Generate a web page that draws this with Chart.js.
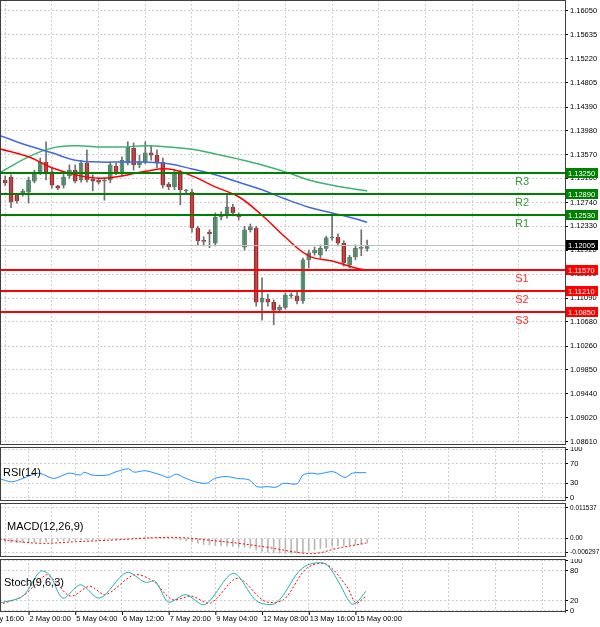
<!DOCTYPE html>
<html>
<head>
<meta charset="utf-8">
<script src="https://cdn.jsdelivr.net/npm/chart.js@4.4.1/dist/chart.umd.min.js"></script>
<style>
  body { margin: 0; background: #fff; }
  #wrap { position: relative; width: 600px; height: 627px; overflow: hidden; }
  .pane { position: absolute; left: 0; width: 600px; }
  .lbl { position: absolute; font: 11px "Liberation Sans", Arial, sans-serif; color: #000; }
</style>
</head>
<body>
<div id="wrap">
  <div class="pane" style="top:0;height:445px"><canvas id="main"></canvas></div>
  <div class="pane" style="top:447px;height:54px"><canvas id="rsi"></canvas></div>
  <div class="pane" style="top:503px;height:54px"><canvas id="macd"></canvas></div>
  <div class="pane" style="top:559px;height:68px"><canvas id="stoch"></canvas></div>
  <div class="lbl" style="left:3px;top:466px">RSI(14)</div>
  <div class="lbl" style="left:7px;top:520px">MACD(12,26,9)</div>
  <div class="lbl" style="left:4px;top:576px">Stoch(9,6,3)</div>
</div>
<script>
// 4H candles, 1 May 20:00 .. 15 May 00:00
var open  = [1.1313,1.1318,1.1287,1.1289,1.1292,1.1311,1.1325,1.1344,1.1327,1.1303,1.1304,1.1320,1.1330,1.1313,1.1342,1.1315,1.1313,1.1311,1.1313,1.1337,1.1325,1.1342,1.1368,1.1339,1.1344,1.1360,1.1356,1.1344,1.1306,1.1301,1.1325,1.1294,1.1292,1.1230,1.1208,1.1223,1.1204,1.1249,1.1252,1.1266,1.1252,1.1197,1.1227,1.1230,1.1102,1.1107,1.1102,1.1088,1.1093,1.1113,1.1113,1.1104,1.1175,1.1187,1.1183,1.1195,1.1213,1.1214,1.1204,1.1166,1.1180,1.1195,1.1195];
var high  = [1.1320,1.1322,1.1290,1.1297,1.1318,1.1330,1.1351,1.1379,1.1334,1.1304,1.1327,1.1339,1.1339,1.1347,1.1365,1.1322,1.1316,1.1316,1.1344,1.1342,1.1353,1.1379,1.1377,1.1356,1.1379,1.1373,1.1365,1.1351,1.1309,1.1330,1.1330,1.1297,1.1297,1.1233,1.1215,1.1227,1.1256,1.1258,1.1287,1.1271,1.1256,1.1233,1.1237,1.1233,1.1144,1.1116,1.1106,1.1097,1.1118,1.1118,1.1120,1.1178,1.1192,1.1197,1.1201,1.1216,1.1252,1.1220,1.1208,1.1183,1.1201,1.1227,1.1209];
var low   = [1.1303,1.1265,1.1273,1.1285,1.1273,1.1308,1.1322,1.1313,1.1299,1.1296,1.1299,1.1316,1.1308,1.1309,1.1309,1.1294,1.1306,1.1278,1.1308,1.1322,1.1320,1.1339,1.1330,1.1334,1.1341,1.1347,1.1334,1.1299,1.1296,1.1296,1.1270,1.1290,1.1223,1.1201,1.1199,1.1196,1.1199,1.1244,1.1247,1.1251,1.1244,1.1192,1.1223,1.1095,1.1071,1.1095,1.1063,1.1085,1.1090,1.1109,1.1099,1.1100,1.1161,1.1183,1.1178,1.1190,1.1209,1.1199,1.1164,1.1161,1.1175,1.1182,1.1190];
var close = [1.1308,1.1275,1.1277,1.1294,1.1313,1.1325,1.1344,1.1327,1.1304,1.1299,1.1318,1.1330,1.1311,1.1342,1.1313,1.1311,1.1309,1.1313,1.1339,1.1325,1.1347,1.1370,1.1339,1.1344,1.1360,1.1356,1.1342,1.1304,1.1301,1.1325,1.1296,1.1294,1.1230,1.1208,1.1207,1.1220,1.1249,1.1252,1.1266,1.1256,1.1249,1.1227,1.1232,1.1102,1.1109,1.1102,1.1088,1.1093,1.1114,1.1113,1.1104,1.1175,1.1187,1.1192,1.1195,1.1213,1.1214,1.1204,1.1170,1.1180,1.1195,1.1196,1.1200];

// moving averages read every 4 candles
var maIdx   = [-1,4,8,12,16,20,24,28,32,36,40,44,48,52,56,60,62];
var maFast  = [1.1367,1.1353,1.1334,1.1322,1.1316,1.1320,1.1328,1.1332,1.1320,1.1301,1.1284,1.1252,1.1214,1.1182,1.1173,1.1161,1.1157];
var maMid   = [1.1390,1.1372,1.1360,1.1347,1.1344,1.1344,1.1344,1.1341,1.1332,1.1322,1.1309,1.1296,1.1280,1.1266,1.1256,1.1246,1.1240];
var maSlow  = [1.1325,1.1353,1.1368,1.1372,1.1370,1.1370,1.1372,1.1370,1.1366,1.1358,1.1349,1.1339,1.1327,1.1313,1.1304,1.1297,1.1294];

var levelNames  = ['R3','R2','R1','S1','S2','S3'];
var levelValues = [1.1325,1.1289,1.1253,1.1157,1.1121,1.1085];
var lastPrice = 1.12005;
var priceTicks = [1.16050,1.15635,1.15220,1.14805,1.14390,1.13980,1.13570,1.13160,1.12740,1.12330,1.11920,1.11500,1.11090,1.10680,1.10260,1.09850,1.09440,1.09020,1.08610];

var rsiIdx = [-1,1.1,3,5.7,8.3,10.9,12.9,13.5,14.9,17.5,18.8,21.1,22.1,24,26.7,28,29.3,30.6,32.6,34.5,35.9,37.8,39.8,41.8,43.1,45,46.4,47.7,50,51,52.6,53.6,56.2,58.2,59.5,61.8];
var rsiVal = [40,33,40,51,40,51,47,53,47,47,53,60,53,56,47,42,49,42,33,30,40,44,40,37,23,23,22,30,29,47,51,49,54,42,51,52];

var macdMain = [-0.0012,-0.0013,-0.0014,-0.0014,-0.0013,-0.0012,-0.0011,-0.0010,-0.0010,-0.0009,-0.0008,-0.0008,-0.0007,
  -0.0006,-0.0005,-0.0005,-0.0004,-0.0003,-0.0002,-0.0001,0.0000,0.0001,0.0002,0.0002,0.0003,0.0003,
  0.0002,0.0001,-0.0001,-0.0003,-0.0005,-0.0008,-0.0012,-0.0016,-0.0020,-0.0022,
  -0.0024,-0.0025,-0.0026,-0.0027,-0.0028,-0.0030,-0.0032,-0.0038,-0.0043,-0.0046,
  -0.0048,-0.0049,-0.0050,-0.0050,-0.0049,-0.0046,-0.0042,
  -0.0038,-0.0034,-0.0030,-0.0026,-0.0024,-0.0024,-0.0022,-0.0020,-0.0018,-0.0016];
var sigIdx = [-1,5.7,12.2,18.8,26.7,30.6,34.5,39.8,45,51,53.6,56.9,61.8];
var sigVal = [-0.0003,-0.0016,-0.0011,-0.0005,0.0003,0.0002,-0.0005,-0.0016,-0.0030,-0.0049,-0.0049,-0.0033,-0.0016];

var stIdx  = [-1,3,6,7.6,9.9,12.9,16.2,20.8,24,25.7,28,30.9,34.2,39.1,43.1,46.4,50.3,52.3,54.9,56.9,59.2,60.1,61.8];
var stMain = [15,29,79,72,25,52,25,77,57,59,17,32,12,75,19,15,79,94,94,62,14,15,39];
var sgIdx  = [-1,3,7,8.3,11.2,14.5,17.2,22.1,25.4,28.6,31.9,35.2,39.8,44.4,47.7,51.6,54.9,58.5,60.1,61.8];
var stSig  = [12,29,72,62,29,49,32,72,59,22,29,15,65,19,22,85,94,49,15,29];

var timeIdx = [-4,4,12,20,28,36,44,52,60];
var timeLabels = ['1 May 16:00','2 May 00:00','5 May 04:00','6 May 12:00','7 May 20:00','9 May 04:00','12 May 08:00','13 May 16:00','15 May 00:00'];

var FONT = { family: 'Liberation Sans', size: 7.5 };
var XMIN = -0.89, XMAX = 95.9;

function pts(xs, ys) { return xs.map(function(x, i) { return { x: x, y: ys[i] }; }); }

function xAxis() {
  return {
    type: 'linear', min: XMIN, max: XMAX, offset: false,
    ticks: { display: false },
    grid: { color: '#d0d0d0', drawTicks: false },
    border: { display: false, dash: [2, 2] },
    afterBuildTicks: function(s) {
      var t = [];
      for (var v = 4; v < XMAX; v += 8) t.push({ value: v });
      s.ticks = t;
    },
    afterFit: function(s) { s.height = 0; s.paddingLeft = 0; s.paddingRight = 0; }
  };
}
function yAxis(min, max, ticks, fmt, size) {
  return {
    position: 'right', min: min, max: max,
    ticks: { font: { family: 'Liberation Sans', size: size || 7.5 }, color: '#000', padding: 2, autoSkip: false, callback: fmt },
    grid: { color: '#d0d0d0', drawTicks: true, tickLength: 3, tickColor: '#000' },
    border: { display: true, color: '#808080', dash: [2, 2] },
    afterBuildTicks: function(s) { s.ticks = ticks.map(function(v) { return { value: v }; }); },
    afterFit: function(s) { s.width = 35; s.paddingTop = 0; s.paddingBottom = 0; }
  };
}
var frame = {
  id: 'frame',
  afterDraw: function(chart) {
    var a = chart.chartArea, c = chart.ctx;
    c.save();
    c.strokeStyle = '#404040'; c.lineWidth = 1;
    c.strokeRect(a.left + 0.5, a.top + 0.5, a.right - a.left, a.bottom - a.top - 1);
    c.restore();
  }
};
function baseOpts(xs, ys, pad) {
  return {
    responsive: true, maintainAspectRatio: false, animation: false,
    layout: { padding: pad || 0, autoPadding: false },
    plugins: { legend: { display: false }, tooltip: { enabled: false } },
    scales: { x: xs, y: ys }
  };
}

// main price pane
var idx = close.map(function(_, i) { return i; });
var candleCol = close.map(function(c, i) { return c >= open[i] ? '#3cb371' : '#ff0000'; });

var levels = {
  id: 'levels',
  afterDatasetsDraw: function(chart) {
    var c = chart.ctx, y = chart.scales.y, a = chart.chartArea;
    c.save();
    c.font = '11px Liberation Sans';
    var py = Math.round(y.getPixelForValue(lastPrice)) + 0.5;
    c.strokeStyle = '#c0c0c0'; c.lineWidth = 1;
    c.beginPath(); c.moveTo(a.left, py); c.lineTo(a.right, py); c.stroke();
    levelValues.forEach(function(v, i) {
      var col = i < 3 ? '#008000' : '#ff0000';
      var p = Math.round(y.getPixelForValue(v));
      c.strokeStyle = col; c.lineWidth = 2;
      c.beginPath(); c.moveTo(a.left, p); c.lineTo(a.right, p); c.stroke();
      c.fillStyle = i < 3 ? '#3a9a3a' : '#ff3030';
      c.textAlign = 'center';
      c.fillText(levelNames[i], 522, p + 12);
    });
    c.restore();
  },
  afterDraw: function(chart) {
    var c = chart.ctx, y = chart.scales.y, a = chart.chartArea;
    c.save();
    c.font = '7.5px Liberation Sans'; c.textAlign = 'left'; c.textBaseline = 'middle';
    function tag(v, bg) {
      var p = Math.round(y.getPixelForValue(v));
      c.fillStyle = bg; c.fillRect(a.right + 1, p - 5, 32, 10);
      c.fillStyle = '#fff'; c.fillText(v.toFixed(5), a.right + 3, p + 0.5);
    }
    levelValues.forEach(function(v, i) { tag(v, i < 3 ? '#008000' : '#ff0000'); });
    tag(lastPrice, '#000');
    c.restore();
  }
};

new Chart(document.getElementById('main'), {
  type: 'bar',
  data: {
    datasets: [
      { type: 'line', data: pts(maIdx, maFast), borderColor: '#ff0000', borderWidth: 1.5, pointRadius: 0, tension: 0.4 },
      { type: 'line', data: pts(maIdx, maMid), borderColor: '#4169e1', borderWidth: 1.5, pointRadius: 0, tension: 0.4 },
      { type: 'line', data: pts(maIdx, maSlow), borderColor: '#3cb371', borderWidth: 1.5, pointRadius: 0, tension: 0.4 },
      { data: idx.map(function(i) { return { x: i, y: [low[i], high[i]] }; }),
        backgroundColor: '#707070', barThickness: 1, grouped: false, minBarLength: 1 },
      { data: idx.map(function(i) { return { x: i, y: [open[i], close[i]] }; }),
        backgroundColor: candleCol, borderColor: '#505050', borderWidth: 0.5, borderSkipped: false,
        barThickness: 4, grouped: false, minBarLength: 1 }
    ]
  },
  options: baseOpts(xAxis(), yAxis(1.08553, 1.16238, priceTicks, function(v) { return v.toFixed(5); })),
  plugins: [levels, frame]
});

// RSI
new Chart(document.getElementById('rsi'), {
  type: 'line',
  data: { datasets: [{ data: pts(rsiIdx, rsiVal), borderColor: '#1e90ff', borderWidth: 1, pointRadius: 0, tension: 0.3 }] },
  options: baseOpts(xAxis(), yAxis(-6.6, 105, [0, 30, 70, 100], function(v) { return String(v); })),
  plugins: [frame]
});

// MACD
var macdTicks = [0.0102, 0, -0.0046];
var macdText = ['0.011537', '0.00', '-0.006297'];
new Chart(document.getElementById('macd'), {
  type: 'bar',
  data: {
    datasets: [
      { type: 'line', data: pts(sigIdx, sigVal), borderColor: '#ff0000', borderWidth: 1, borderDash: [2, 2], pointRadius: 0, tension: 0.4 },
      { data: pts(idx, macdMain), backgroundColor: '#b8b8b8', barThickness: 1 }
    ]
  },
  options: baseOpts(xAxis(), yAxis(-0.0062, 0.0118, macdTicks, function(v, i) { return macdText[i]; }, 6.5)),
  plugins: [frame]
});

// Stochastic + time axis
var timeAxis = {
  id: 'timeAxis',
  afterDraw: function(chart) {
    var c = chart.ctx, x = chart.scales.x, a = chart.chartArea;
    c.save();
    c.font = '7.5px Liberation Sans'; c.fillStyle = '#000'; c.textAlign = 'left'; c.textBaseline = 'top';
    timeIdx.forEach(function(t, i) {
      var p = x.getPixelForValue(t);
      c.fillRect(p, a.bottom, 1, 3);
      c.fillText(timeLabels[i], p + 1, a.bottom + 3);
    });
    c.restore();
  }
};
new Chart(document.getElementById('stoch'), {
  type: 'line',
  data: {
    datasets: [
      { data: pts(stIdx, stMain), borderColor: '#20b2aa', borderWidth: 1, pointRadius: 0, tension: 0.3 },
      { data: pts(sgIdx, stSig), borderColor: '#ff0000', borderWidth: 1, borderDash: [2, 2], pointRadius: 0, tension: 0.3 }
    ]
  },
  options: baseOpts(xAxis(), yAxis(-3, 104, [0, 20, 80, 100], function(v) { return String(v); }), { bottom: 15 }),
  plugins: [frame, timeAxis]
});
</script>
</body>
</html>
